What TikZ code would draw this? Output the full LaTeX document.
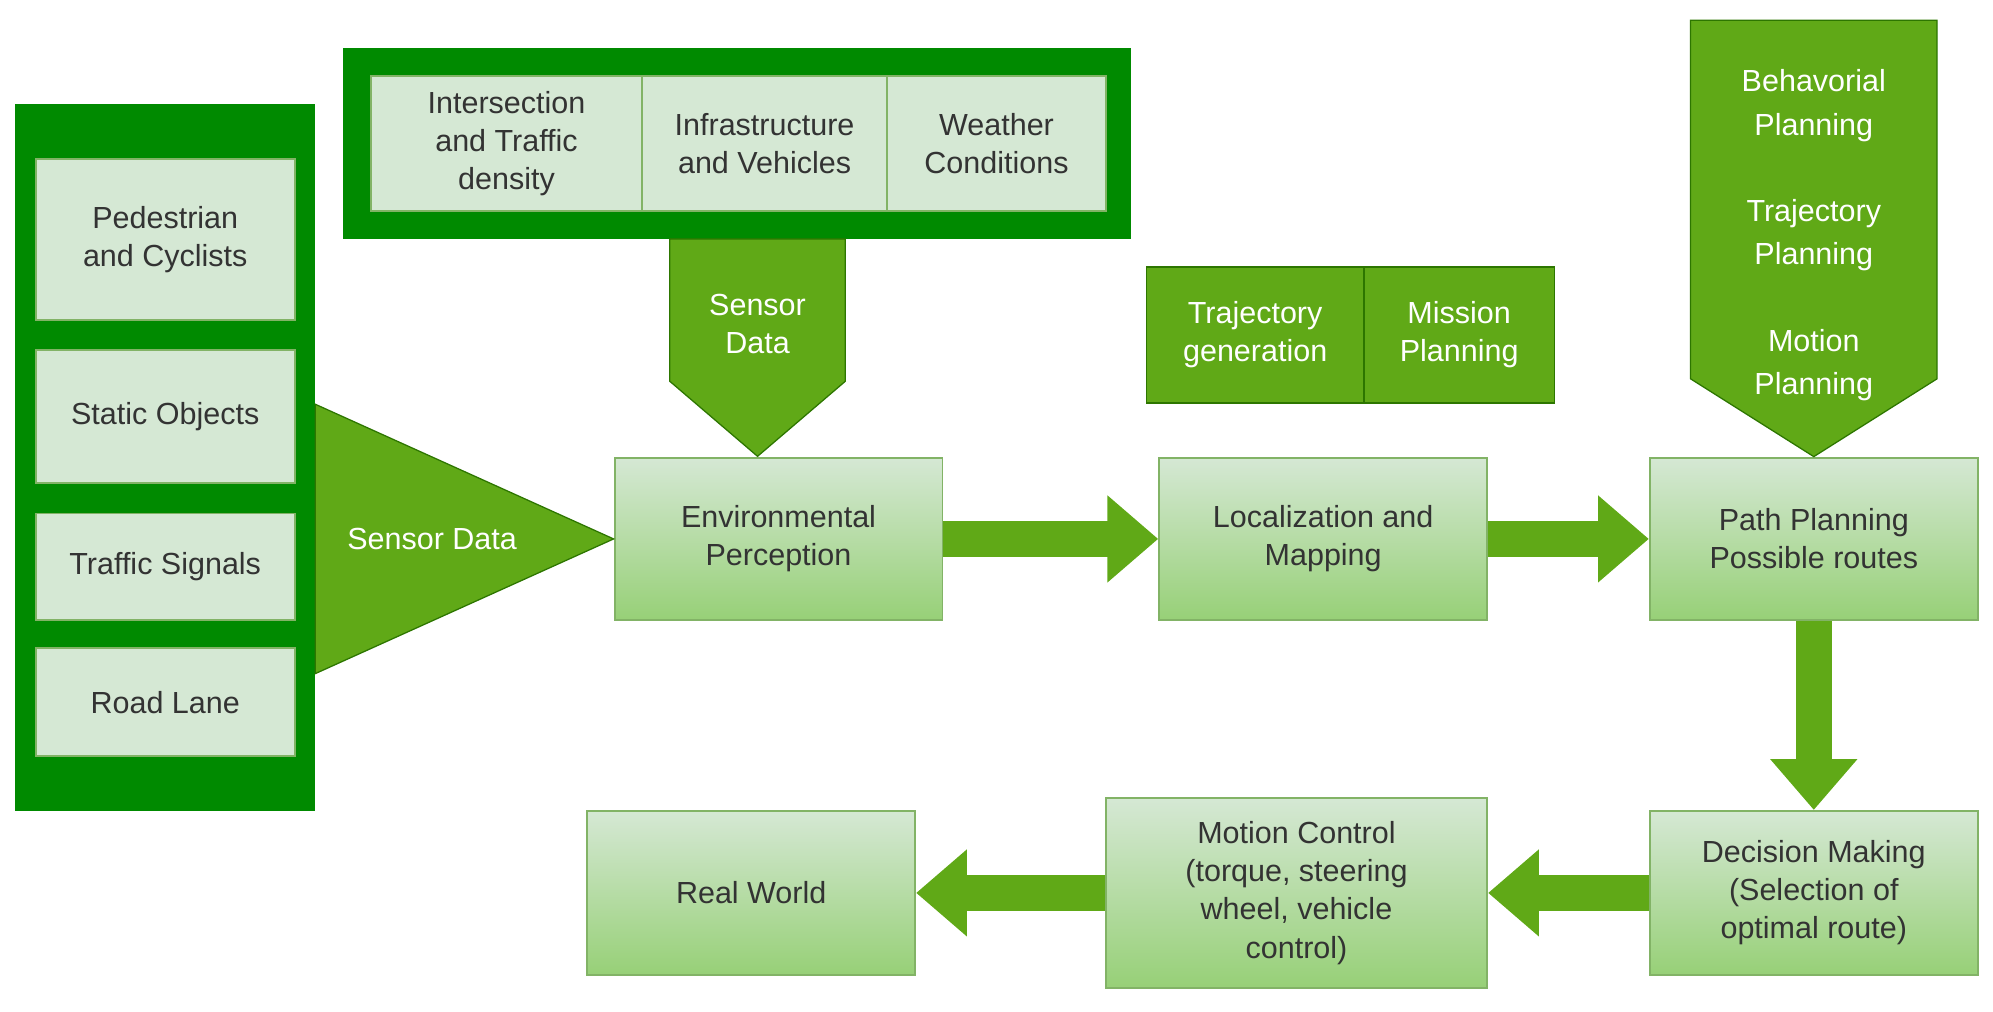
\documentclass[tikz,border=0pt]{standalone}
\usepackage{fontspec}
\setmainfont{Liberation Sans}
\usetikzlibrary{arrows.meta,shapes.geometric}
\definecolor{dkg}{HTML}{008A00}
\definecolor{dkgb}{HTML}{005700}
\definecolor{mg}{HTML}{60A917}
\definecolor{mgb}{HTML}{2D7600}
\definecolor{lg}{HTML}{D5E8D4}
\definecolor{lgb}{HTML}{82B366}
\definecolor{lg2}{HTML}{97D077}
\definecolor{tx}{HTML}{333333}
\begin{document}
\begin{tikzpicture}[x=1pt,y=-1pt,
  every node/.style={font=\fontsize{24}{30}\selectfont, align=center, inner sep=0pt},
  cell/.style={draw=lgb, fill=lg, text=tx, line width=1.5pt},
  gbox/.style={draw=lgb, line width=1.5pt, top color=lg, bottom color=lg2, text=tx, minimum width=258pt, minimum height=128pt},
  mcell/.style={draw=mgb, fill=mg, text=white, line width=1.5pt, minimum height=107pt},
  fat/.style={draw=mg, line width=28pt, -{Triangle[width=66pt,length=40pt]}}]
\useasboundingbox (0,0) rectangle (1568,796);
% left container
\fill[dkg] (12,82) rectangle (248,638);
\node[cell, minimum width=204pt, minimum height=127pt] (ped) at (130,188.5) {Pedestrian\\and Cyclists};
\node[cell, minimum width=204pt, minimum height=105pt] (stat) at (130,327.5) {Static Objects};
\node[cell, minimum width=204pt, minimum height=84pt] (traf) at (130,446) {Traffic Signals};
\node[cell, minimum width=204pt, minimum height=85pt] (road) at (130,552.5) {Road Lane};
% top container
\fill[dkg] (270,38) rectangle (890,188);
\node[cell, minimum width=213pt, minimum height=106pt] (inter) at (398.5,113) {Intersection\\and Traffic\\density};
\node[cell, minimum width=193pt, minimum height=106pt] (infra) at (601.5,113) {Infrastructure\\and Vehicles};
\node[cell, minimum width=172pt, minimum height=106pt] (weat) at (784,113) {Weather\\Conditions};
% main boxes
\node[gbox] (env) at (612.5,424) {Environmental\\Perception};
\node[gbox] (loc) at (1041,424) {Localization and\\Mapping};
\node[gbox] (path) at (1427,424) {Path Planning\\Possible routes};
\node[gbox, minimum height=129pt] (dec) at (1427,702.5) {Decision Making\\(Selection of\\optimal route)};
\node[gbox, minimum width=300pt, minimum height=149pt] (mot) at (1020,702.5) {Motion Control\\(torque, steering\\wheel, vehicle\\control)};
\node[gbox, minimum height=129pt] (real) at (591,702.5) {Real World};
% mid-green cells
\node[mcell, minimum width=171pt] (trg) at (987.5,263.5) {Trajectory\\generation};
\node[mcell, minimum width=150pt] (mis) at (1148,263.5) {Mission\\Planning};
% triangle
\fill[mg, draw=mgb, line width=1pt] (248,318) -- (env.west) -- (248,530) -- cycle;
\node[text=white] (sd1) at (340,424) {Sensor Data};
% down pentagon
\coordinate (envtip) at (596,359);
\fill[mg, draw=mgb, line width=1pt] (527,188) -- (665,188) -- (665,300) -- (envtip) -- (527,300) -- cycle;
\node[text=white] (sd2) at (596,255) {Sensor\\Data};
% right pentagon
\fill[mg, draw=mgb, line width=1pt] (1330,16) -- (1524,16) -- (1524,298) -- (path.north) -- (1330,298) -- cycle;
\node[text=white, font=\fontsize{24}{34}\selectfont] (plans) at (1427,185) {Behavorial\\Planning\\[34pt]Trajectory\\Planning\\[34pt]Motion\\Planning};
% block arrows
\draw[fat] (env.east) -- (loc.west);
\draw[fat] (loc.east) -- (path.west);
\draw[fat] (path.south) -- (dec.north);
\draw[fat] (dec.west) -- (mot.east);
\draw[fat] (mot.west) -- (real.east);
\end{tikzpicture}
\end{document}
